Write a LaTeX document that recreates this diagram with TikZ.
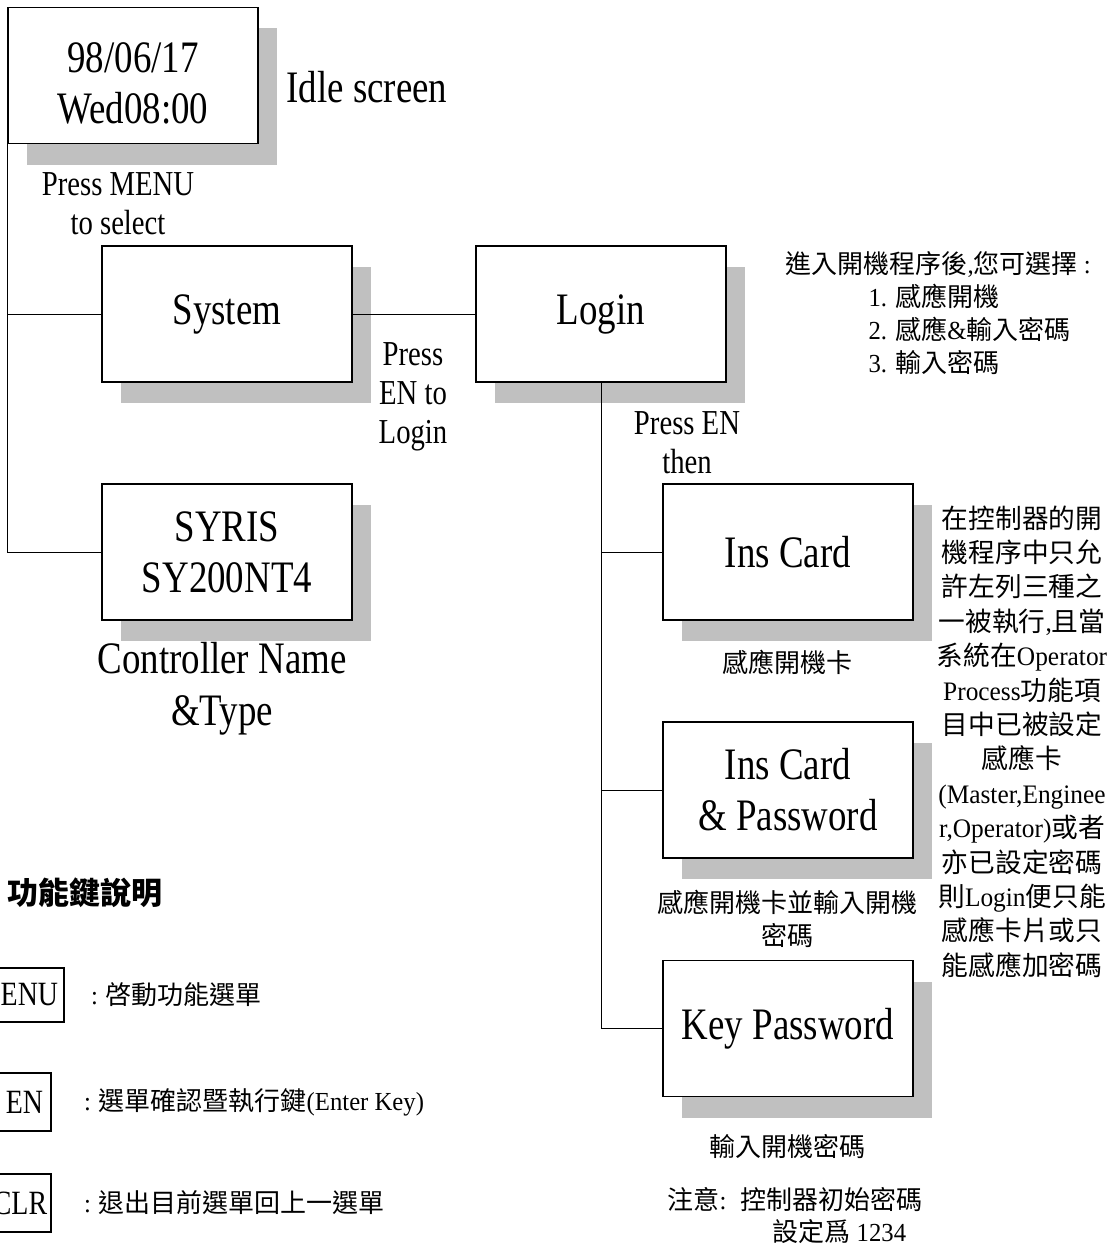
\documentclass[tikz,border=0pt]{standalone}
\usepackage{fontspec}
\setmainfont{Liberation Serif}[FakeStretch=0.82]
\newfontfamily\cjk{Noto Sans CJK TC}
\newfontfamily\notelatin{Liberation Serif}[FakeStretch=0.95]
\newcommand\latn[1]{{\notelatin #1}}
\usetikzlibrary{positioning,shadows}
\definecolor{shadegray}{HTML}{C0C0C0}

\begin{document}
\begin{tikzpicture}[x=1pt, y=-1pt,
  line width=1.1pt,
  node distance=26pt,
  screen/.style={draw, fill=white, minimum width=250pt, minimum height=136pt,
                 inner sep=0pt, align=center, font=\fontsize{45}{51}\selectfont,
                 drop shadow={shadow xshift=19pt, shadow yshift=-21pt, opacity=1,
                              fill=shadegray, draw=none}},
  hint/.style={align=center, inner sep=0pt, font=\fontsize{35}{39}\selectfont},
  big/.style={align=center, inner sep=0pt, font=\fontsize{45}{52}\selectfont},
  note/.style={align=center, inner sep=0pt, font=\fontsize{26}{33}\selectfont\cjk},
  key/.style={draw, inner sep=0pt, font=\fontsize{34}{36}\selectfont},
  wire/.style={line width=1pt}]
\useasboundingbox (0,0) rectangle (1117,1247);
\clip (0,0) rectangle (1117,1247);

% menu tree, left side
\node[screen] (idle) at (133,75.5) {\rule{0pt}{46pt}98/06/17\\Wed08:00};
\node[big] (idlelbl) at (367,87) {Idle screen};
\node[hint] (menuhint) at (118,204) {Press MENU\\to select};
\node[screen] (system) at (227,314) {System};
\node[screen] (syris) at (227,552) {SYRIS\\SY200NT4};
\node[big] (ctrl) at (222,689) {Controller Name\\\&Type};

% login branch
\node[screen] (login) at (601,314) {Login};
\node[hint] (enhint) at (413,397) {Press\\EN to\\Login};
\node[note, align=left, anchor=west] (choices) at (785,313)
  {進入開機程序後\latn{,}您可選擇\latn{ :}\\
   \hspace*{83pt}\latn{1. }感應開機\\
   \hspace*{83pt}\latn{2. }感應\latn{\&}輸入密碼\\
   \hspace*{83pt}\latn{3. }輸入密碼};
\node[hint] (thenhint) at (687,443) {Press EN\\then};
\node[screen] (inscard) at (788,552) {Ins Card};
\node[screen] (inspw) at (788,790) {Ins Card\\\& Password};
\node[screen] (keypw) at (788,1028.5) {Key Password};
\node[note] (inscap) at (787,662) {感應開機卡};
\node[note] (inspwcap) at (787,919) {感應開機卡並輸入開機\\密碼};
\node[note] (keycap) at (787,1147) {輸入開機密碼};
\node[note, align=left, anchor=west, font=\fontsize{26}{32}\selectfont\cjk] (initpw) at (667,1216)
  {注意\latn{:}\hspace{14pt}控制器初始密碼\\\hspace*{105pt}設定爲\latn{ 1234}};
\node[note, font=\fontsize{26.7}{34.4}\selectfont\cjk] (rule) at (1022,741.5)
  {在控制器的開\\機程序中只允\\許左列三種之\\一被執行\latn{,}且當\\
   系統在\latn{Operator}\\\latn{Process}功能項\\目中已被設定\\感應卡\\
   \latn{(Master,Enginee}\\\latn{r,Operator)}或者\\亦已設定密碼\\
   則\latn{Login}便只能\\感應卡片或只\\能感應加密碼};

% key legend
\node[anchor=west, inner sep=0pt, font=\fontsize{31}{36}\selectfont\cjk\bfseries]
  (keyhead) at (7,893) {功能鍵說明};
\node[key, minimum width=94pt, minimum height=54pt] (kmenu) at (17,995) {MENU};
\node[key, minimum width=53pt, minimum height=58pt] (ken) at (24.5,1102) {EN};
\node[key, minimum width=62pt, minimum height=58pt] (kclr) at (20,1203) {CLR};
\node[note, right=26pt of kmenu] (dmenu) {\latn{:} 啓動功能選單};
\node[note, right=32pt of ken] (den) {\latn{:} 選單確認暨執行鍵\latn{(Enter Key)}};
\node[note, right=32pt of kclr] (dclr) {\latn{:} 退出目前選單回上一選單};

\draw[wire] (idle.south west) -- (idle.south west |- syris.west) -- (syris.west);
\draw[wire] (idle.south west |- system.west) -- (system.west);
\draw[wire] (system.east) -- (login.west);
\draw[wire] (login.south) -- (login.south |- keypw.west) -- (keypw.west);
\draw[wire] (login.south |- inscard.west) -- (inscard.west);
\draw[wire] (login.south |- inspw.west) -- (inspw.west);
\end{tikzpicture}
\end{document}
